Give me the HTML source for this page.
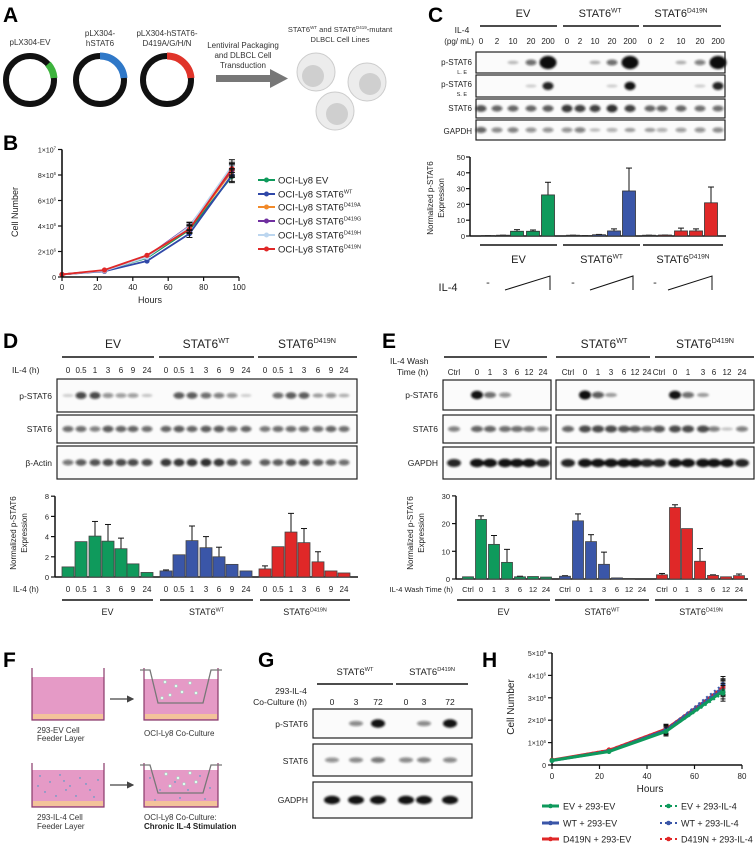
<!DOCTYPE html>
<html><head><meta charset="utf-8"><title>STAT6 figure</title>
<style>
html,body{margin:0;padding:0;background:#fff;}
svg{display:block;font-family:"Liberation Sans",Arial,sans-serif;}
</style></head>
<body>
<svg id="fig" width="755" height="845" viewBox="0 0 755 845" xmlns="http://www.w3.org/2000/svg">
<defs>
<filter id="blur" x="-50%" y="-50%" width="200%" height="200%"><feGaussianBlur stdDeviation="1.1"/></filter>
<marker id="ah" markerWidth="6" markerHeight="6" refX="5" refY="3" orient="auto"><path d="M0,0 L6,3 L0,6 z" fill="#444"/></marker>
</defs>

<!-- Panel A -->
<g>
<text x="3" y="22" font-size="21" font-weight="bold">A</text>
<text x="30" y="45" font-size="8" text-anchor="middle" fill="#333">pLX304-EV</text>
<text x="100" y="36" font-size="8" text-anchor="middle" fill="#333">pLX304-</text>
<text x="100" y="46" font-size="8" text-anchor="middle" fill="#333">hSTAT6</text>
<text x="167" y="36" font-size="8" text-anchor="middle" fill="#333">pLX304-hSTAT6-</text>
<text x="167" y="46" font-size="8" text-anchor="middle" fill="#333">D419A/G/H/N</text>
<circle cx="30" cy="80" r="24" fill="none" stroke="#111" stroke-width="6"/>
<path d="M48,64 A24,24 0 0 1 54,78" fill="none" stroke="#3db33d" stroke-width="7"/>
<circle cx="100" cy="80" r="24" fill="none" stroke="#111" stroke-width="6"/>
<path d="M100,56 A24,24 0 0 1 124,78" fill="none" stroke="#2f78c8" stroke-width="7"/>
<circle cx="167" cy="80" r="24" fill="none" stroke="#111" stroke-width="6"/>
<path d="M167,56 A24,24 0 0 1 191,78" fill="none" stroke="#e0342a" stroke-width="7"/>
<text x="243" y="48" font-size="8" text-anchor="middle" fill="#333">Lentiviral Packaging</text>
<text x="243" y="58" font-size="8" text-anchor="middle" fill="#333">and DLBCL Cell</text>
<text x="243" y="68" font-size="8" text-anchor="middle" fill="#333">Transduction</text>
<rect x="216" y="75" width="56" height="7" fill="#777"/>
<path d="M270,69 L288,78.5 L270,88 z" fill="#777"/>
<text x="340" y="32" font-size="7.5" text-anchor="middle" fill="#333">STAT6<tspan font-size="4.5" dy="-3">WT</tspan><tspan dy="3"> and STAT6</tspan><tspan font-size="4.5" dy="-3">D419</tspan><tspan dy="3">-mutant</tspan></text>
<text x="340" y="42" font-size="7.5" text-anchor="middle" fill="#333">DLBCL Cell Lines</text>
<g>
<circle cx="316" cy="72" r="19" fill="#ececec" stroke="#ccc"/><circle cx="313" cy="76" r="11" fill="#cfcfcf"/>
<circle cx="367" cy="82" r="19" fill="#ececec" stroke="#ccc"/><circle cx="370" cy="84" r="11" fill="#cfcfcf"/>
<circle cx="335" cy="111" r="19" fill="#ececec" stroke="#ccc"/><circle cx="337" cy="114" r="11" fill="#cfcfcf"/>
</g>
</g>

<text x="3" y="150" font-size="21" font-weight="bold">B</text>
<text x="428" y="22" font-size="21" font-weight="bold">C</text>
<text x="3" y="348" font-size="21" font-weight="bold">D</text>
<text x="382" y="348" font-size="21" font-weight="bold">E</text>
<text x="3" y="667" font-size="21" font-weight="bold">F</text>
<text x="258" y="667" font-size="21" font-weight="bold">G</text>
<text x="482" y="667" font-size="21" font-weight="bold">H</text>

<!-- Panel F -->
<g>
<g>
<rect x="32" y="677" width="72" height="43" fill="#e59ac6"/>
<path d="M32,668 V720 H104 V668" fill="none" stroke="#8a3a6a" stroke-width="1.2"/>
<rect x="33" y="714" width="70" height="5" fill="#f3c39a"/>
</g>
<line x1="110" y1="699" x2="133" y2="699" stroke="#444" stroke-width="1.2" marker-end="url(#ah)"/>
<g>
<rect x="144" y="679" width="74" height="41" fill="#e59ac6"/>
<path d="M144,668 V720 H218 V668" fill="none" stroke="#8a3a6a" stroke-width="1.2"/>
<rect x="145" y="714" width="72" height="5" fill="#f3c39a"/>
<path d="M140,670 H150 L158,703 H203 L211,670 H222" fill="none" stroke="#777" stroke-width="1.3"/>
<g fill="#dfe" stroke="#9cb" stroke-width="0.4"><circle cx="165" cy="682" r="1.5"/><circle cx="176" cy="686" r="1.5"/><circle cx="190" cy="683" r="1.5"/><circle cx="182" cy="692" r="1.5"/><circle cx="170" cy="695" r="1.5"/><circle cx="196" cy="693" r="1.5"/><circle cx="162" cy="698" r="1.5"/></g>
</g>
<text x="37" y="733" font-size="8" fill="#333">293-EV Cell</text>
<text x="37" y="741" font-size="8" fill="#333">Feeder Layer</text>
<text x="144" y="736" font-size="8" fill="#333">OCI-Ly8 Co-Culture</text>
<g>
<rect x="32" y="770" width="72" height="37" fill="#e59ac6"/>
<path d="M32,763 V807 H104 V763" fill="none" stroke="#8a3a6a" stroke-width="1.2"/>
<rect x="33" y="801" width="70" height="5" fill="#f3c39a"/>
<g fill="#2a9ac8"><circle cx="40" cy="776" r="0.7"/><circle cx="50" cy="782" r="0.7"/><circle cx="60" cy="775" r="0.7"/><circle cx="70" cy="786" r="0.7"/><circle cx="80" cy="778" r="0.7"/><circle cx="90" cy="790" r="0.7"/><circle cx="98" cy="780" r="0.7"/><circle cx="45" cy="792" r="0.7"/><circle cx="56" cy="796" r="0.7"/><circle cx="66" cy="790" r="0.7"/><circle cx="76" cy="796" r="0.7"/><circle cx="86" cy="784" r="0.7"/><circle cx="94" cy="797" r="0.7"/><circle cx="38" cy="786" r="0.7"/><circle cx="64" cy="781" r="0.7"/></g>
</g>
<line x1="110" y1="785" x2="133" y2="785" stroke="#444" stroke-width="1.2" marker-end="url(#ah)"/>
<g>
<rect x="144" y="770" width="74" height="37" fill="#e59ac6"/>
<path d="M144,763 V807 H218 V763" fill="none" stroke="#8a3a6a" stroke-width="1.2"/>
<rect x="145" y="801" width="72" height="5" fill="#f3c39a"/>
<path d="M140,765 H150 L158,793 H203 L211,765 H222" fill="none" stroke="#777" stroke-width="1.3"/>
<g fill="#dfe" stroke="#9cb" stroke-width="0.4"><circle cx="166" cy="774" r="1.5"/><circle cx="178" cy="778" r="1.5"/><circle cx="190" cy="773" r="1.5"/><circle cx="184" cy="784" r="1.5"/><circle cx="170" cy="786" r="1.5"/><circle cx="196" cy="782" r="1.5"/></g>
<g fill="#2a9ac8"><circle cx="150" cy="778" r="0.7"/><circle cx="160" cy="790" r="0.7"/><circle cx="175" cy="782" r="0.7"/><circle cx="188" cy="790" r="0.7"/><circle cx="200" cy="776" r="0.7"/><circle cx="210" cy="788" r="0.7"/><circle cx="180" cy="798" r="0.7"/><circle cx="155" cy="800" r="0.7"/><circle cx="205" cy="799" r="0.7"/></g>
</g>
<text x="37" y="820" font-size="8" fill="#333">293-IL-4 Cell</text>
<text x="37" y="829" font-size="8" fill="#333">Feeder Layer</text>
<text x="144" y="820" font-size="8" fill="#333">OCI-Ly8 Co-Culture:</text>
<text x="144" y="829" font-size="8" font-weight="bold" fill="#222">Chronic IL-4 Stimulation</text>
</g>
</svg>

<script>
const NS='http://www.w3.org/2000/svg';
const svg=document.getElementById('fig');
function el(tag,attrs,parent){const e=document.createElementNS(NS,tag);for(const k in attrs)e.setAttribute(k,attrs[k]);(parent||svg).appendChild(e);return e;}
function label(x,y,str,size,anchor,name,extra){
  const t=el('text',Object.assign({x:x,y:y,'font-size':size,'text-anchor':anchor||'start',fill:'#222'},extra||{}));
  t.textContent=str;
  
  
  return t;
}
function supLabel(x,y,base,sup,size,anchor,name){
  const t=el('text',{x:x,y:y,'font-size':size,'text-anchor':anchor||'middle',fill:'#222'});
  t.appendChild(document.createTextNode(base));
  const s=el('tspan',{'font-size':size*0.6,dy:-size*0.4},t);s.textContent=sup;
  
  
  return t;
}
function line(x1,y1,x2,y2,w,name,color){
  const l=el('line',{x1:x1,y1:y1,x2:x2,y2:y2,stroke:color||'#111','stroke-width':w});
  
  
  return l;
}

/* ================= Panel B: growth curve ================= */
const bHours=[0,24,48,72,96];
const bEV=[0.2,0.5,1.5,3.7,7.9];
const bWT=[0.2,0.45,1.25,3.4,8.0];
const bD419A=[0.2,0.5,1.6,3.8,8.3];
const bD419G=[0.2,0.5,1.6,4.0,8.4];
const bD419H=[0.2,0.5,1.55,3.95,8.7];
const bD419N=[0.2,0.55,1.7,3.75,8.5];
const bErr=[0.05,0.05,0.1,0.3,0.5];
const bSeriesNames=['OCI-Ly8 EV','OCI-Ly8 STAT6','OCI-Ly8 STAT6','OCI-Ly8 STAT6','OCI-Ly8 STAT6','OCI-Ly8 STAT6'];
const bSeriesSup=['','WT','D419A','D419G','D419H','D419N'];
const bXTicks=[0,20,40,60,80,100];
const bYTicks=[0,2,4,6,8,10];
const bYTickLabels=['0','2×10','4×10','6×10','8×10','1×10'];
const bYTickExp=['','6','6','6','6','7'];
(function(){
  const bx=h=>62+h*1.77, by=v=>277-v*12.75;
  const colors=['#0f9a5c','#3048a8','#f28a2a','#7030a0','#bcd6ef','#e02828'];
  const series=[bEV,bWT,bD419A,bD419G,bD419H,bD419N];
  const g=el('g',{});
  
  
  line(62,by(10),62,277,1.6,'b-y-axis');
  line(62,277,bx(100),277,1.6,'b-x-axis');
  bXTicks.forEach(t=>{line(bx(t),277,bx(t),281,1.2,'b-x-tick');label(bx(t),290,String(t),8,'middle','b-x-tick-label');});
  bYTicks.forEach((t,i)=>{line(58,by(t),62,by(t),1.2,'b-y-tick');supLabel(56,by(t)+3,bYTickLabels[i],bYTickExp[i],7,'end','b-y-tick-label');});
  label(150,303,'Hours',9,'middle','b-x-axis-title');
  label(0,0,'Cell Number',9,'middle','b-y-axis-title',{transform:'translate(18,212) rotate(-90)'});
  series.forEach((s,si)=>{
    const pts=bHours.map((h,i)=>bx(h)+','+by(s[i])).join(' ');
    const p=el('polyline',{points:pts,fill:'none',stroke:colors[si],'stroke-width':1.8},g);
    
    
    bHours.forEach((h,i)=>{
      if(i>=3){line(bx(h),by(s[i]+bErr[i]),bx(h),by(s[i]-bErr[i]),1,'b-error-bar');line(bx(h)-3,by(s[i]+bErr[i]),bx(h)+3,by(s[i]+bErr[i]),1,'b-error-cap');line(bx(h)-3,by(s[i]-bErr[i]),bx(h)+3,by(s[i]-bErr[i]),1,'b-error-cap');}
      const c=el('circle',{cx:bx(h),cy:by(s[i]),r:2.6,fill:colors[si]},g);
      
      
    });
  });
  const ly=[180,194,207,221,235,249];
  bSeriesNames.forEach((n,i)=>{
    line(258,ly[i],275,ly[i],2,'b-legend-swatch',colors[i]);
    const c=el('circle',{cx:266.5,cy:ly[i],r:2.5,fill:colors[i]});
    
    
    const t=label(278,ly[i]+3.5,n,9.5,'start','b-legend-entry');
    if(bSeriesSup[i]){const s=el('tspan',{'font-size':5.5,dy:-4},t);s.textContent=bSeriesSup[i];}
  });
})();

/* ================= Blot helper ================= */
function blot(x0,y0,x1,y1,lanes,intens,name,bandW){
  const r=el('rect',{x:x0,y:y0,width:x1-x0,height:y1-y0,fill:'#fbfbfb',stroke:'#222','stroke-width':1.2});
  
  
  const g=el('g',{filter:'url(#blur)'});
  
  
  const cy=(y0+y1)/2;
  lanes.forEach((x,i)=>{
    const v=intens[i]; if(v<=0.02) return;
    const ry=Math.min((y1-y0)/2-1.5,1.4+2.6*v), rx=(bandW||5.5)+(v>1.2?3:0);
    const b=el('ellipse',{cx:x,cy:cy,rx:rx,ry:ry,fill:'#111','fill-opacity':Math.min(1,0.15+0.75*v)},g);
    
    
  });
}
function groupHeader(cx,y,x0,x1,base,sup,name,size){
  supLabel(cx,y,base,sup,size||11,'middle',name);
  line(x0,y+9,x1,y+9,1.6,name+'-line');
}

/* ================= Panel C ================= */
const cLanes=[481,497,513,531,548,567,580,595,612,630,650,662,681,700,718];
const cLaneLabels=['0','2','10','20','200','0','2','10','20','200','0','2','10','20','200'];
const cPstatLE=[0,0,0.15,0.6,2,0,0,0.2,0.6,2,0,0,0.2,0.5,2];
const cPstatSE=[0,0,0,0.05,1,0,0,0,0.05,1.1,0,0,0,0.05,1];
const cStat6=[0.75,0.65,0.65,0.65,0.7,0.9,0.85,0.85,0.95,0.85,0.65,0.65,0.65,0.6,0.6];
const cGapdh=[0.65,0.45,0.5,0.4,0.4,0.4,0.5,0.15,0.25,0.3,0.3,0.25,0.35,0.4,0.45];
const cCats=['EV','STAT6','STAT6'];
const cCatSup=['','WT','D419N'];
const cEV=[0.3,0.5,3,3,26];
const cWT=[0.5,0.3,0.8,3.2,28.5];
const cD419N=[0.5,0.6,3.2,3.2,21];
const cEVerr=[0.3,0.5,4,3.8,34];
const cWTerr=[0.5,0.3,1,4.5,43];
const cD419Nerr=[0.5,0.6,5,4.5,31];
const cYTicks=[0,10,20,30,40,50];
(function(){
  groupHeader(523,17,480,557,'EV','','c-header-ev',11);
  groupHeader(600,17,563,639,'STAT6','WT','c-header-wt',11);
  groupHeader(681,17,643,721,'STAT6','D419N','c-header-d419n',11);
  label(462,33,'IL-4',8.5,'middle','c-il4-label');
  label(474,44,'(pg/ mL)',8,'end','c-il4-unit');
  cLanes.forEach((x,i)=>label(x,44,cLaneLabels[i],8,'middle','c-lane-label'));
  blot(476,52,725,73,cLanes,cPstatLE,'c-blot-pstat6-le');
  blot(476,75,725,97,cLanes,cPstatSE,'c-blot-pstat6-se');
  blot(476,99,725,118,cLanes,cStat6,'c-blot-stat6');
  blot(476,120,725,140,cLanes,cGapdh,'c-blot-gapdh');
  label(472,65,'p-STAT6',8,'end','c-row-pstat6-le');label(467,74,'L. E',5.5,'end','c-row-le');
  label(472,87,'p-STAT6',8,'end','c-row-pstat6-se');label(467,96,'S. E',5.5,'end','c-row-se');
  label(472,111,'STAT6',8,'end','c-row-stat6');
  label(472,134,'GAPDH',8,'end','c-row-gapdh');
  const cy=v=>236-v*1.58;
  line(470,cy(50),470,236,1.5,'c-y-axis');line(470,236,726,236,1.5,'c-x-axis');
  cYTicks.forEach(t=>{line(466,cy(t),470,cy(t),1.2,'c-y-tick');label(465,cy(t)+3,String(t),7.5,'end','c-y-tick-label');});
  label(0,0,'Normalized p-STAT6',8,'middle','c-y-axis-title',{transform:'translate(433,198) rotate(-90)'});
  label(0,0,'Expression',8,'middle','c-y-axis-title-2',{transform:'translate(444,198) rotate(-90)'});
  const vals=[cEV,cWT,cD419N], errs=[cEVerr,cWTerr,cD419Nerr], cols=['#0f9a5c','#3a56a8','#e02828'];
  const bcx=[[488,503,517,533,548],[573,585,599,614,629],[649,665,681,696,711]];
  vals.forEach((s,gi)=>s.forEach((v,i)=>{
    const x=bcx[gi][i];
    line(x,cy(v),x,cy(errs[gi][i]),1,'c-error-bar');line(x-3,cy(errs[gi][i]),x+3,cy(errs[gi][i]),1,'c-error-cap');
    const r=el('rect',{x:x-6.5,y:cy(v),width:13,height:236-cy(v),fill:cols[gi],stroke:'#333','stroke-width':0.8});
    
    
  }));
  [[480,557],[563,640],[643,723]].forEach((p,i)=>{line(p[0],245,p[1],245,1.4,'c-group-line');supLabel((p[0]+p[1])/2,263,cCats[i],cCatSup[i],11,'middle','c-group-label');});
  label(448,291,'IL-4',11,'middle','c-il4-row-label');
  [[488,505,550],[573,590,633],[655,668,712]].forEach(p=>{
    label(p[0],286,'-',11,'middle','c-il4-minus');
    const tr=el('path',{d:`M${p[1]},290 L${p[2]},276 L${p[2]},290`,fill:'none',stroke:'#111','stroke-width':1});
    
    
  });
})();

/* ================= Panel D ================= */
const dLanes=[68,81,95,108,121,133,147,166,179,192,206,219,232,246,265,278,291,304,318,331,344];
const dLaneLabels=['0','0.5','1','3','6','9','24','0','0.5','1','3','6','9','24','0','0.5','1','3','6','9','24'];
const dPstat=[0.05,0.8,0.8,0.4,0.35,0.35,0.1,0,0.7,0.7,0.6,0.5,0.4,0.05,0,0.6,0.7,0.7,0.3,0.4,0.2];
const dStat6=[0.6,0.6,0.5,0.7,0.65,0.65,0.6,0.65,0.7,0.65,0.7,0.7,0.6,0.65,0.55,0.6,0.6,0.6,0.6,0.65,0.6];
const dActin=[0.55,0.7,0.75,0.8,0.8,0.8,0.8,0.9,0.9,0.9,0.95,0.9,0.8,0.7,0.7,0.7,0.75,0.75,0.7,0.65,0.6];
const dEV=[1,3.5,4.05,3.55,2.8,1.3,0.45];
const dWT=[0.6,2.2,3.6,2.9,2,1.25,0.6];
const dD419N=[0.8,3,4.45,3.4,1.5,0.6,0.4];
const dEVerr=[1,3.5,5.5,5.2,3.85,1.3,0.45];
const dWTerr=[0.7,2.2,5.05,4,2.95,1.25,0.6];
const dD419Nerr=[1.1,3,6.3,4.8,2.5,0.6,0.4];
const dYTicks=[0,2,4,6,8];
(function(){
  groupHeader(113,348,62,154,'EV','','d-header-ev',12);
  groupHeader(206,348,159,254,'STAT6','WT','d-header-wt',12);
  groupHeader(307,348,258,357,'STAT6','D419N','d-header-d419n',12);
  label(12,373,'IL-4 (h)',8.5,'start','d-il4-label');
  dLanes.forEach((x,i)=>label(x,373,dLaneLabels[i],8,'middle','d-lane-label'));
  blot(57,379,357,412,dLanes,dPstat,'d-blot-pstat6',5.5);
  blot(57,415,357,443,dLanes,dStat6,'d-blot-stat6',5.5);
  blot(57,446,357,479,dLanes,dActin,'d-blot-actin',5.5);
  label(52,399,'p-STAT6',8.5,'end','d-row-pstat6');
  label(52,432,'STAT6',8.5,'end','d-row-stat6');
  label(52,466,'β-Actin',8.5,'end','d-row-actin');
  const dy=v=>577-v*10.1;
  line(55,dy(8),55,577,1.5,'d-y-axis');line(55,577,358,577,1.5,'d-x-axis');
  dYTicks.forEach(t=>{line(51,dy(t),55,dy(t),1.2,'d-y-tick');label(49,dy(t)+3,String(t),7.5,'end','d-y-tick-label');});
  label(0,0,'Normalized p-STAT6',8,'middle','d-y-axis-title',{transform:'translate(16,533) rotate(-90)'});
  label(0,0,'Expression',8,'middle','d-y-axis-title-2',{transform:'translate(27,533) rotate(-90)'});
  const vals=[dEV,dWT,dD419N], errs=[dEVerr,dWTerr,dD419Nerr], cols=['#0f9a5c','#3a56a8','#e02828'];
  vals.forEach((s,gi)=>s.forEach((v,i)=>{
    const x=dLanes[gi*7+i];
    if(errs[gi][i]>v){line(x,dy(v),x,dy(errs[gi][i]),1,'d-error-bar');line(x-3,dy(errs[gi][i]),x+3,dy(errs[gi][i]),1,'d-error-cap');}
    const r=el('rect',{x:x-6,y:dy(v),width:12,height:577-dy(v),fill:cols[gi],stroke:'#444','stroke-width':0.8});
    
    
  }));
  label(13,592,'IL-4 (h)',8,'start','d-x-axis-title');
  dLanes.forEach((x,i)=>label(x,592,dLaneLabels[i],8,'middle','d-x-tick-label'));
  const cats=['EV','STAT6','STAT6'],sups=['','WT','D419N'];
  [[62,153],[160,253],[260,350]].forEach((p,i)=>{line(p[0],600,p[1],600,1.4,'d-group-line');supLabel((p[0]+p[1])/2,615,cats[i],sups[i],9,'middle','d-group-label');});
})();

/* ================= Panel E ================= */
const eBlotLanes=[454,477,490,505,517,529,543,568,585,598,611,624,635,647,659,675,688,703,714,727,742];
const eLaneLabels=['Ctrl','0','1','3','6','12','24','Ctrl','0','1','3','6','12','24','Ctrl','0','1','3','6','12','24'];
const ePstat=[0,1.1,0.6,0.4,0,0,0,0,1.2,0.7,0.3,0,0,0,0,1.1,0.6,0.3,0,0,0];
const eStat6=[0.5,0.65,0.65,0.6,0.6,0.55,0.45,0.65,0.8,0.8,0.8,0.75,0.7,0.6,0.75,0.8,0.8,0.8,0.5,0.1,0.5];
const eGapdh=[1,1.1,1.1,1.1,1.1,1.1,1.0,1,1.1,1.1,1.1,1.1,1.1,1,1,1.1,1.1,1.1,1.1,1.1,1];
const eBarX=[468,481,494,507,520,533,546,565,578,591,604,617,629,642,662,675,687,700,713,726,739];
const eEV=[0.8,21.5,12.5,6,0.8,0.9,0.7];
const eWT=[1,21,13.5,5.3,0.4,0.2,0];
const eD419N=[1.5,25.8,18.2,6.4,1.3,0.8,1.2];
const eEVerr=[0.8,22.8,15.7,10.7,1,0.9,0.7];
const eWTerr=[1.2,23.5,16,9.7,0.4,0.2,0];
const eD419Nerr=[2,26.8,18.2,11,1.5,0.8,1.8];
const eYTicks=[0,10,20,30];
(function(){
  groupHeader(502,348,444,547,'EV','','e-header-ev',12);
  groupHeader(604,348,556,650,'STAT6','WT','e-header-wt',12);
  groupHeader(705,348,655,754,'STAT6','D419N','e-header-d419n',12);
  label(390,364,'IL-4 Wash',8.5,'start','e-wash-label');
  label(397,375,'Time (h)',8.5,'start','e-wash-label-2');
  eBlotLanes.forEach((x,i)=>label(x,375,eLaneLabels[i],8,'middle','e-lane-label'));
  const L=eBlotLanes.slice(0,7),R=eBlotLanes.slice(7);
  blot(443,380,551,410,L,ePstat.slice(0,7),'e-blot-pstat6-ev',6);
  blot(556,380,754,410,R,ePstat.slice(7),'e-blot-pstat6-stat6',6);
  blot(443,415,551,443,L,eStat6.slice(0,7),'e-blot-stat6-ev',6);
  blot(556,415,754,443,R,eStat6.slice(7),'e-blot-stat6-stat6',6);
  blot(443,447,551,479,L,eGapdh.slice(0,7),'e-blot-gapdh-ev',7);
  blot(556,447,754,479,R,eGapdh.slice(7),'e-blot-gapdh-stat6',7);
  label(438,398,'p-STAT6',8.5,'end','e-row-pstat6');
  label(438,432,'STAT6',8.5,'end','e-row-stat6');
  label(438,466,'GAPDH',8.5,'end','e-row-gapdh');
  const ey=v=>579-v*2.77;
  line(456,ey(30),456,579,1.5,'e-y-axis');line(456,579,748,579,1.5,'e-x-axis');
  eYTicks.forEach(t=>{line(452,ey(t),456,ey(t),1.2,'e-y-tick');label(450,ey(t)+3,String(t),7.5,'end','e-y-tick-label');});
  label(0,0,'Normalized p-STAT6',8,'middle','e-y-axis-title',{transform:'translate(413,533) rotate(-90)'});
  label(0,0,'Expression',8,'middle','e-y-axis-title-2',{transform:'translate(424,533) rotate(-90)'});
  const vals=[eEV,eWT,eD419N], errs=[eEVerr,eWTerr,eD419Nerr], cols=['#0f9a5c','#3a56a8','#e02828'];
  vals.forEach((s,gi)=>s.forEach((v,i)=>{
    const x=eBarX[gi*7+i];
    if(errs[gi][i]>v){line(x,ey(v),x,ey(errs[gi][i]),1,'e-error-bar');line(x-3,ey(errs[gi][i]),x+3,ey(errs[gi][i]),1,'e-error-cap');}
    const r=el('rect',{x:x-5.5,y:ey(v),width:11,height:579-ey(v),fill:cols[gi],stroke:'#444','stroke-width':0.8});
    
    
  }));
  label(453,592,'IL-4 Wash Time (h)',7.5,'end','e-x-axis-title');
  eBarX.forEach((x,i)=>label(x,592,eLaneLabels[i],7.5,'middle','e-x-tick-label'));
  const cats=['EV','STAT6','STAT6'],sups=['','WT','D419N'];
  [[457,550],[555,649],[655,747]].forEach((p,i)=>{line(p[0],600,p[1],600,1.4,'e-group-line');supLabel((p[0]+p[1])/2,615,cats[i],sups[i],9,'middle','e-group-label');});
})();

/* ================= Panel G ================= */
const gLanes=[332,356,378,406,424,450];
const gLaneLabels=['0','3','72','0','3','72'];
const gPstat=[0,0.45,1.1,0,0.45,1.1];
const gStat6=[0.4,0.45,0.55,0.45,0.5,0.45];
const gGapdh=[1.1,1.1,1.1,1.1,1.1,1.1];
(function(){
  groupHeader(355,675,317,393,'STAT6','WT','g-header-wt',9.5);
  groupHeader(432,675,396,468,'STAT6','D419N','g-header-d419n',9.5);
  label(291,694,'293-IL-4',8.5,'middle','g-coculture-label');
  label(307,705,'Co-Culture (h)',8.5,'end','g-coculture-label-2');
  gLanes.forEach((x,i)=>label(x,705,gLaneLabels[i],8.5,'middle','g-lane-label'));
  blot(313,709,472,738,gLanes,gPstat,'g-blot-pstat6',7);
  blot(313,744,472,776,gLanes,gStat6,'g-blot-stat6',7);
  blot(313,782,472,818,gLanes,gGapdh,'g-blot-gadph',8);
  label(308,727,'p-STAT6',8.5,'end','g-row-pstat6');
  label(308,764,'STAT6',8.5,'end','g-row-stat6');
  label(308,803,'GADPH',8.5,'end','g-row-gadph');
})();

/* ================= Panel H ================= */
const hHours=[0,24,48,72];
const hEVEV=[0.2,0.6,1.5,3.3];
const hWTEV=[0.2,0.62,1.55,3.45];
const hD419NEV=[0.22,0.65,1.6,3.4];
const hEVIL4=[0.2,0.6,1.5,3.2];
const hWTIL4=[0.2,0.62,1.58,3.6];
const hD419NIL4=[0.22,0.68,1.62,3.5];
const hErr=[0.03,0.05,0.2,0.35];
const hXTicks=[0,20,40,60,80];
const hYTicks=[0,1,2,3,4,5];
const hLegend=['EV + 293-EV','WT + 293-EV','D419N + 293-EV','EV + 293-IL-4','WT + 293-IL-4','D419N + 293-IL-4'];
(function(){
  const hx=h=>552+h*2.375, hy=v=>765-v*22.4;
  line(552,hy(5),552,765,1.5,'h-y-axis');line(552,765,hx(80),765,1.5,'h-x-axis');
  hXTicks.forEach(t=>{line(hx(t),765,hx(t),769,1.2,'h-x-tick');label(hx(t),779,String(t),8,'middle','h-x-tick-label');});
  hYTicks.forEach(t=>{line(548,hy(t),552,hy(t),1.2,'h-y-tick');supLabel(546,hy(t)+3,t===0?'0':t+'×10',t===0?'':'6',7,'end','h-y-tick-label');});
  label(650,792,'Hours',10,'middle','h-x-axis-title');
  label(0,0,'Cell  Number',10,'middle','h-y-axis-title',{transform:'translate(514,707) rotate(-90)'});
  const series=[hEVEV,hWTEV,hD419NEV,hEVIL4,hWTIL4,hD419NIL4];
  const cols=['#0f9a5c','#3a56a8','#e02828','#0f9a5c','#3a56a8','#e02828'];
  const order=[2,1,5,4,0,3];
  order.forEach(si=>{
    const s=series[si], dashed=si>=3;
    hHours.forEach((h,i)=>{if(i>=2){line(hx(h),hy(s[i]-hErr[i]),hx(h),hy(s[i]+hErr[i]),1,'h-error-bar');line(hx(h)-2.5,hy(s[i]+hErr[i]),hx(h)+2.5,hy(s[i]+hErr[i]),1,'h-error-cap');line(hx(h)-2.5,hy(s[i]-hErr[i]),hx(h)+2.5,hy(s[i]-hErr[i]),1,'h-error-cap');}});
    const p=el('polyline',{points:hHours.map((h,i)=>hx(h)+','+hy(s[i])).join(' '),fill:'none',stroke:cols[si],'stroke-width':dashed?2:3,'stroke-dasharray':dashed?'2 3':'none'});
    
    
    hHours.forEach((h,i)=>{const c=el('circle',{cx:hx(h),cy:hy(s[i]),r:2.4,fill:cols[si]});
      
      });
  });
  const rows=[806,823,839];
  hLegend.forEach((n,i)=>{
    const col=i<3?0:1, r=rows[i%3];
    const x0=col?660:542;
    const l=line(x0,r,x0+17,r,col?2:3,'h-legend-swatch',cols[i]);
    if(col) l.setAttribute('stroke-dasharray','2 3');
    const c=el('circle',{cx:x0+8.5,cy:r,r:2.3,fill:cols[i]});
    
    
    label(x0+21,r+3.5,n,9,'start','h-legend-entry');
  });
})();
</script>
</body></html>
